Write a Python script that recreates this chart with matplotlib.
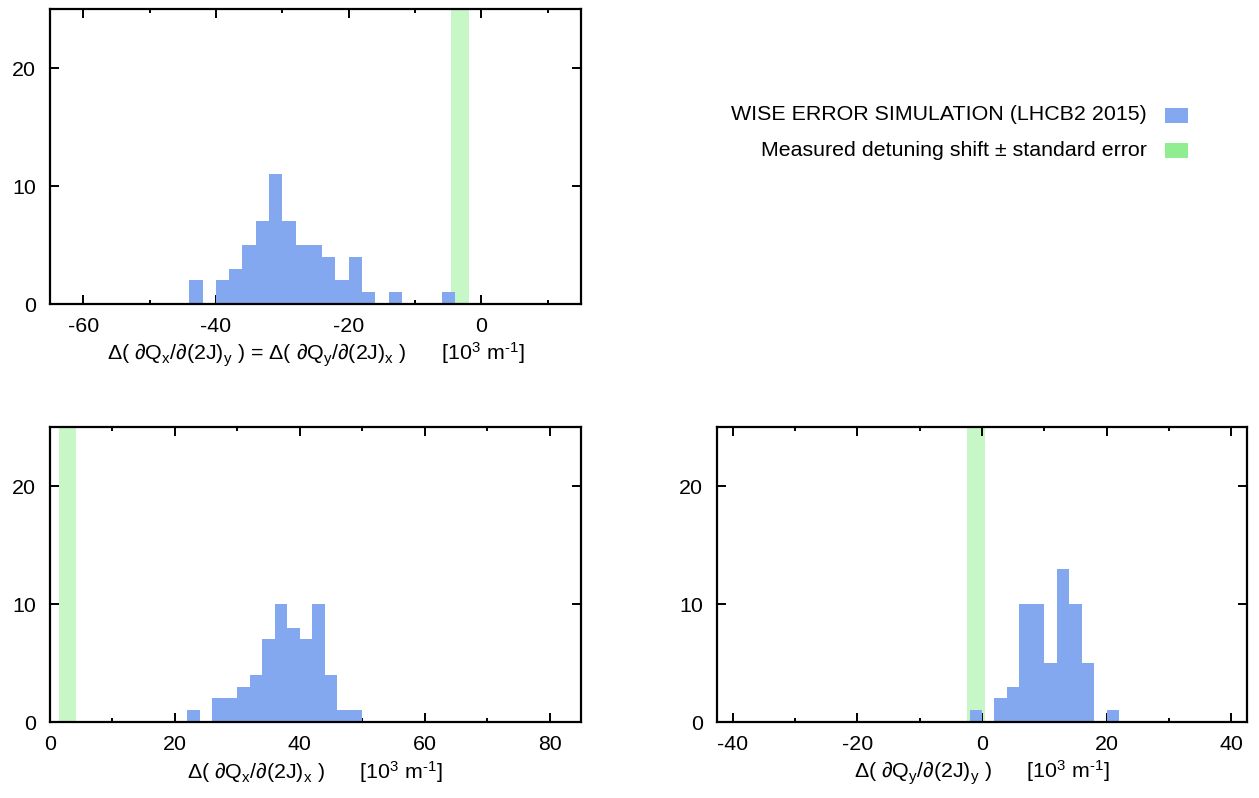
import matplotlib.pyplot as plt
from matplotlib.patches import Rectangle
from matplotlib.ticker import MultipleLocator

plt.rcParams['font.family'] = ['Liberation Sans', 'DejaVu Sans']
plt.rcParams['mathtext.fontset'] = 'custom'
plt.rcParams['mathtext.rm'] = 'Liberation Sans'
plt.rcParams['mathtext.it'] = 'Liberation Sans:italic'
plt.rcParams['font.size'] = 15.4
plt.rcParams['axes.unicode_minus'] = False

BLUE = '#84a8f0'
GREEN = '#90ee90'

# simulated detuning shifts, histogram with 2 unit bins (left edge, count)
xy_bins = [-44, -42, -40, -38, -36, -34, -32, -30, -28, -26,
           -24, -22, -20, -18, -16, -14, -12, -10, -8, -6]
xy_counts = [2, 0, 2, 3, 5, 7, 11, 7, 5, 5, 4, 2, 4, 1, 0, 1, 0, 0, 0, 1]

xx_bins = [22, 24, 26, 28, 30, 32, 34, 36, 38, 40, 42, 44, 46, 48]
xx_counts = [1, 0, 2, 2, 3, 4, 7, 10, 8, 7, 10, 4, 1, 1]

yy_bins = [-2, 0, 2, 4, 6, 8, 10, 12, 14, 16, 18, 20]
yy_counts = [1, 0, 2, 3, 10, 10, 5, 13, 10, 5, 0, 1]

# measured shift and standard error
xy_meas, xy_err = -3.25, 1.35
xx_meas, xx_err = 2.85, 1.35
yy_meas, yy_err = -1.0, 1.4

bin_width = 2
unit = r'[10$^\mathrm{3}$ m$^\mathrm{‐1}$]'

fig = plt.figure(figsize=(12.59, 7.98), dpi=100)
ax1 = fig.add_axes([0.0397, 0.619, 0.4218, 0.3697])
ax2 = fig.add_axes([0.0397, 0.0952, 0.4218, 0.3697])
ax3 = fig.add_axes([0.5695, 0.0952, 0.421, 0.3697])


def histo(ax, bins, counts, meas, err, xlim, xlabel):
    ax.axvspan(meas - err, meas + err, color=GREEN, alpha=0.5, lw=0, zorder=1)
    ax.bar(bins, counts, width=bin_width, align='edge', color=BLUE, lw=0, zorder=2)
    ax.set_xlim(*xlim)
    ax.set_ylim(0, 25)
    ax.xaxis.set_major_locator(MultipleLocator(20))
    ax.xaxis.set_minor_locator(MultipleLocator(10))
    ax.yaxis.set_major_locator(MultipleLocator(10))
    ax.tick_params(which='both', direction='in', top=True, right=True, width=1.4)
    ax.tick_params(which='major', length=6.5)
    ax.tick_params(which='minor', length=3.2)
    ax.tick_params(axis='x', pad=9)
    ax.tick_params(axis='y', pad=10)
    for s in ax.spines.values():
        s.set_linewidth(1.6)
        s.set_zorder(5)
    ax.set_xlabel(xlabel, labelpad=4)


histo(ax1, xy_bins, xy_counts, xy_meas, xy_err, (-65, 15),
      r'Δ( ∂Q$_\mathrm{x}$/∂(2J)$_\mathrm{y}$ ) = Δ( ∂Q$_\mathrm{y}$/∂(2J)$_\mathrm{x}$ )      ' + unit)
histo(ax2, xx_bins, xx_counts, xx_meas, xx_err, (0, 85),
      r'Δ( ∂Q$_\mathrm{x}$/∂(2J)$_\mathrm{x}$ )      ' + unit)
histo(ax3, yy_bins, yy_counts, yy_meas, yy_err, (-42.5, 42.5),
      r'Δ( ∂Q$_\mathrm{y}$/∂(2J)$_\mathrm{y}$ )      ' + unit)

# legend, gnuplot style (text right aligned, key box on the right)
fig.text(1147 / 1259, 1 - 115 / 798, 'WISE ERROR SIMULATION (LHCB2 2015)',
         ha='right', va='center')
fig.text(1147 / 1259, 1 - 150 / 798, 'Measured detuning shift ± standard error',
         ha='right', va='center')
fig.patches.append(Rectangle((1165 / 1259, 1 - 123 / 798), 23 / 1259, 15 / 798,
                             transform=fig.transFigure, color=BLUE, lw=0))
fig.patches.append(Rectangle((1165 / 1259, 1 - 158 / 798), 23 / 1259, 15 / 798,
                             transform=fig.transFigure, color=GREEN, lw=0))

fig.savefig('out.png', dpi=100)
